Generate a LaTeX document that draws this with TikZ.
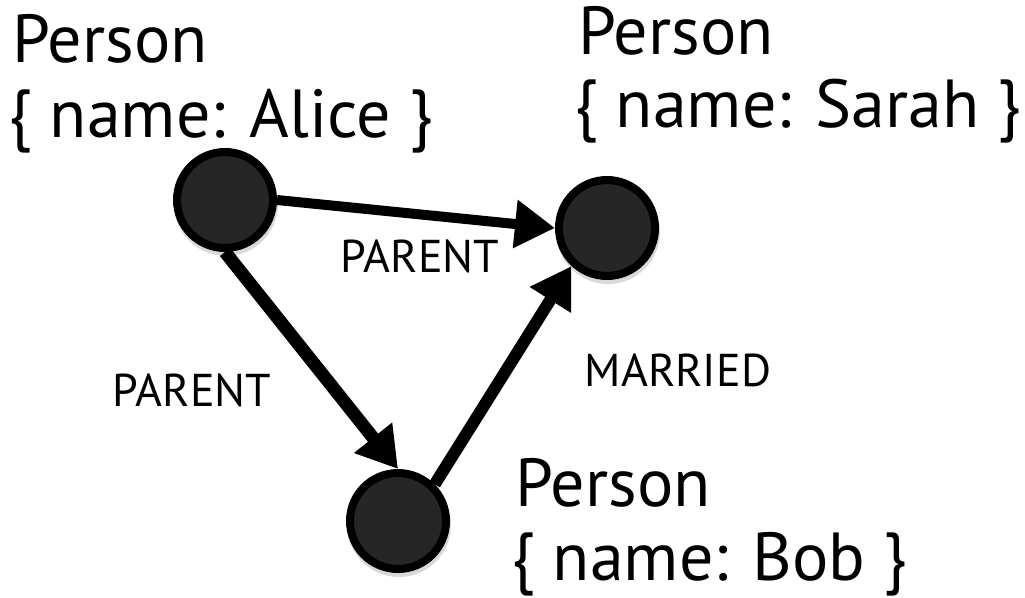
\documentclass[tikz,border=0pt]{standalone}
\usepackage{fontspec}
\setmainfont{PT Sans}
\usetikzlibrary{arrows.meta}
\begin{document}
\begin{tikzpicture}[x=1pt,y=-1pt,
  person/.style={circle,draw=black,line width=8pt,fill=black!85,
    minimum size=96pt,inner sep=0pt},
  shade/.style={circle,fill=black!25,minimum size=104pt,inner sep=0pt,opacity=0.6},
  rel/.style={line width=12pt,-{Triangle[length=40pt,width=46pt]}},
  caption/.style={anchor=base west,inner sep=0pt,font=\fontsize{68}{76}\selectfont,align=left},
  rellabel/.style={inner sep=0pt,font=\fontsize{46}{52}\selectfont}]
\useasboundingbox (0,0) rectangle (1025,597);

% soft shadows under the nodes
\node[shade] at (226,204) {};
\node[shade] at (608,232) {};
\node[shade] at (399,525) {};

% people
\node[person] (alice) at (225,200) {};
\node[person] (sarah) at (607,228) {};
\node[person] (bob)   at (398,521) {};

% property captions
\node[caption] (alicecap) at (12,62)  {Person};
\node[caption] (alicename) at (8,137) {\{ name: Alice \}};
\node[caption] (sarahcap) at (578,54) {Person};
\node[caption] (sarahname) at (574,127) {\{ name: Sarah \}};
\node[caption] (bobcap) at (515,506) {Person};
\node[caption] (bobname) at (511,580) {\{ name: Bob \}};

% relationships
\draw[rel,line width=10pt] (alice.east) -- (sarah.west);
\draw[rel,line width=13pt] (alice.south) -- (bob.north);
\draw[rel] (bob.45) -- (sarah.-133);

\node[rellabel] (l1) at (420,256) {PARENT};
\node[rellabel] (l2) at (192,390) {PARENT};
\node[rellabel] (l3) at (678,370) {MARRIED};
\end{tikzpicture}
\end{document}
